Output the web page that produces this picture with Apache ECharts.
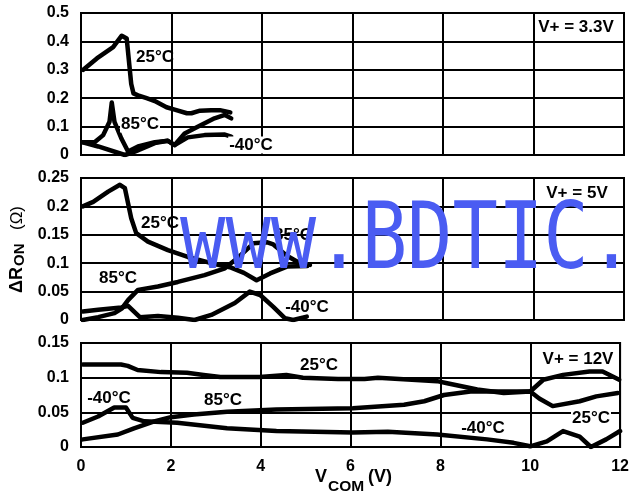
<!DOCTYPE html>
<html>
<head>
<meta charset="utf-8">
<script src="https://cdn.jsdelivr.net/npm/echarts@6/dist/echarts.min.js"></script>
<style>html,body{margin:0;padding:0;background:#fff;}#c{width:632px;height:502px;}</style>
</head>
<body>
<div id="c"></div>
<script>
// ---------- DATA ----------
// Panel 1: V+ = 3.3V  ([VCOM (V), ΔRON (Ω)])
const p33_25 = [[0.05,0.30],[0.35,0.34],[0.71,0.38],[0.9,0.42],[1.01,0.41],[1.11,0.25],[1.16,0.217],[1.26,0.21],[1.45,0.20],[1.63,0.19],[1.89,0.168],[2.07,0.16],[2.34,0.147],[2.44,0.147],[2.63,0.156],[2.88,0.158],[3.07,0.158],[3.3,0.15]];
const p33_85 = [[0.04,0.045],[0.3,0.045],[0.49,0.07],[0.63,0.117],[0.68,0.185],[0.74,0.117],[0.89,0.059],[1.04,0.012],[1.26,0.03],[1.63,0.045],[1.92,0.05],[2.07,0.035],[2.29,0.076],[2.59,0.10],[2.95,0.129],[3.18,0.141],[3.32,0.129]];
const p33_m40 = [[0.04,0.045],[0.38,0.03],[0.97,0.0],[1.19,0.012],[1.63,0.042],[1.92,0.05],[2.07,0.035],[2.36,0.062],[2.73,0.07],[3.18,0.072],[3.32,0.065]];
// Panel 2: V+ = 5V
const p5_25 = [[0.04,0.2],[0.27,0.208],[0.6,0.226],[0.86,0.238],[0.97,0.232],[1.11,0.179],[1.22,0.153],[1.48,0.138],[1.92,0.123],[2.36,0.111],[2.88,0.1],[3.29,0.093],[3.6,0.083],[3.88,0.07],[4.18,0.082],[4.55,0.094],[5.0,0.095]];
const p5_85 = [[0.04,0.0],[0.38,0.005],[0.74,0.012],[0.9,0.02],[1.04,0.035],[1.26,0.053],[1.7,0.059],[2.14,0.067],[2.73,0.079],[3.18,0.091],[3.5,0.112],[3.81,0.135],[4.1,0.137],[4.25,0.133],[4.55,0.113],[4.84,0.1],[5.06,0.097]];
const p5_m40 = [[0.04,0.015],[0.38,0.018],[0.89,0.022],[1.04,0.025],[1.3,0.005],[1.7,0.007],[2.14,0.004],[2.51,0.0],[2.88,0.009],[3.4,0.03],[3.73,0.05],[3.96,0.044],[4.25,0.023],[4.51,0.003],[4.69,0.0],[4.99,0.006]];
// Panel 3: V+ = 12V
const p12_25 = [[0.04,0.119],[0.89,0.119],[1.04,0.117],[1.26,0.111],[1.78,0.108],[2.36,0.107],[2.73,0.104],[3.1,0.101],[3.98,0.101],[4.57,0.104],[4.94,0.1],[5.72,0.098],[6.31,0.098],[6.61,0.1],[7.93,0.095],[8.15,0.092],[8.82,0.083],[9.41,0.078],[10.0,0.08],[10.2,0.07],[10.5,0.059],[11.1,0.066],[11.47,0.073],[11.95,0.078]];
const p12_85 = [[0.04,0.011],[0.82,0.018],[1.18,0.027],[1.63,0.037],[2.0,0.043],[2.51,0.047],[3.25,0.051],[4.35,0.054],[6.05,0.056],[7.19,0.061],[7.64,0.066],[8.08,0.075],[8.67,0.08],[10.0,0.08],[10.29,0.097],[10.73,0.104],[11.32,0.109],[11.61,0.109],[11.98,0.097]];
const p12_m40 = [[0.04,0.035],[0.38,0.044],[0.74,0.057],[1.0,0.057],[1.15,0.042],[1.41,0.037],[2.14,0.035],[3.25,0.027],[4.35,0.023],[6.05,0.021],[6.83,0.022],[7.93,0.018],[9.04,0.011],[9.63,0.006],[10.0,0.001],[10.37,0.008],[10.73,0.023],[11.1,0.015],[11.35,0.0],[11.69,0.011],[12.0,0.023]];

const xTicks = {min:0, max:12, interval:2};
const yRanges = [{min:0,max:0.5,interval:0.1},{min:0,max:0.25,interval:0.05},{min:0,max:0.15,interval:0.05}];
const supplyLabels = ['V+ = 3.3V','V+ = 5V','V+ = 12V'];

// ---------- CHART ----------
const FONT = "'Liberation Sans', Arial, sans-serif";
const chart = echarts.init(document.getElementById('c'), null, {renderer:'canvas'});
const grids = [
  {left:81, top:13, width:543, height:142},
  {left:81, top:178, width:543, height:142},
  {left:81, top:343, width:543, height:104}
].map(g => Object.assign(g, {show:true, borderColor:'#000', borderWidth:2, backgroundColor:'transparent'}));

const labelStyle = {color:'#000', fontFamily:FONT, fontWeight:'bold', fontSize:16};
const xAxis = [0,1,2].map(i => ({
  type:'value', gridIndex:i, min:xTicks.min, max:xTicks.max, interval:xTicks.interval,
  axisLine:{show:false}, axisTick:{show:false},
  splitLine:{show:true, lineStyle:{color:'#000', width:2}},
  axisLabel:Object.assign({show:i===2, margin:12}, labelStyle)
}));
const yAxis = [0,1,2].map(i => ({
  type:'value', gridIndex:i, min:yRanges[i].min, max:yRanges[i].max, interval:yRanges[i].interval,
  axisLine:{show:false}, axisTick:{show:false},
  splitLine:{show:true, lineStyle:{color:'#000', width:2}},
  axisLabel:Object.assign({margin:12}, labelStyle)
}));
const allSeries = [[p33_25,p33_85,p33_m40],[p5_25,p5_85,p5_m40],[p12_25,p12_85,p12_m40]];
const series = [];
allSeries.forEach((grp, gi) => grp.forEach(d => series.push({
  type:'line', xAxisIndex:gi, yAxisIndex:gi, data:d, showSymbol:false, symbol:'none', silent:true,
  lineStyle:{color:'#000', width:4.5, join:'round', cap:'round'}, z:3
})));

function txt(s, x, y, opts) {
  return Object.assign({type:'text', x:x, y:y, z:100, silent:true,
    style:Object.assign({text:s, fill:'#000', font:'bold 17px ' + FONT, align:'center', verticalAlign:'middle'}, opts||{})});
}
function vtxt(s, x, y, font) {
  return {type:'text', x:x, y:y, rotation:Math.PI/2, z:100, silent:true,
    style:{text:s, fill:'#000', font:font, align:'left', verticalAlign:'middle'}};
}
const lblBg = {backgroundColor:'#fff', padding:[0,1]};
const graphic = [
  // curve labels
  txt('25°C', 155, 57),
  txt('85°C', 140, 124, lblBg),
  txt('-40°C', 251, 145, lblBg),
  txt('25°C', 160, 223),
  txt('85°C', 118, 278, lblBg),
  txt('85°C', 293, 235),
  txt('-40°C', 307, 307),
  txt('25°C', 319, 365),
  txt('-40°C', 109, 398),
  txt('85°C', 223, 400),
  txt('-40°C', 483, 428),
  txt('25°C', 591, 418, lblBg),
  // supply labels
  txt(supplyLabels[0], 576, 27),
  txt(supplyLabels[1], 577, 193),
  txt(supplyLabels[2], 578, 359),
  // x axis title
  txt('V', 315, 477, {align:'left', font:'bold 18px ' + FONT}),
  txt('COM', 328, 487, {align:'left', font:'bold 15.5px ' + FONT}),
  txt('(V)', 368, 477, {align:'left', font:'bold 18px ' + FONT}),
  // y axis title (rotated)
  vtxt('Δ', 17, 293, 'bold 18px ' + FONT),
  vtxt('R', 17, 280, 'bold 18px ' + FONT),
  vtxt('ON', 20, 266, 'bold 15px ' + FONT),
  vtxt('(Ω)', 17, 230, '17px ' + FONT),
  // watermark
  {type:'text', x:180, y:244, scaleX:0.82, z:200, silent:true,
   style:{text:'www.BDTIC.', fill:'#4a5cf2', font:"92px 'DejaVu Sans Mono', monospace", align:'left', verticalAlign:'middle'}}
];

chart.setOption({animation:false, backgroundColor:'#fff', grid:grids, xAxis:xAxis, yAxis:yAxis, series:series, graphic:graphic});
</script>
</body>
</html>
